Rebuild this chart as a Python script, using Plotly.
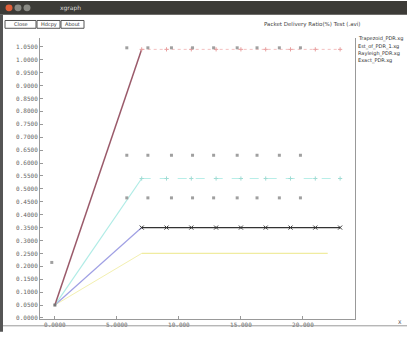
import plotly.graph_objects as go

# ---- data ----
ramp_x = [0, 7]
red_ramp_y = [0.05, 1.04]
cyan_ramp_y = [0.05, 0.54]
blue_ramp_y = [0.05, 0.35]
yellow_ramp_y = [0.05, 0.25]

flat_x = [7, 9, 11, 13, 15, 17, 19, 21, 23]
red_flat_y = [1.04] * 9
cyan_flat_y = [0.54] * 9
black_flat_y = [0.35] * 9
yellow_flat_x = [7, 22]
yellow_flat_y = [0.25, 0.25]

dots_x = [5.8, 7.5, 9.4, 11.1, 12.8, 14.7, 16.3, 18.1, 19.8]
dots_top_y = [1.046] * 9
dots_mid_y = [0.63] * 9
dots_low_y = [0.465] * 9
lone_x = [-0.25]
lone_y = [0.215]

x_ticks = [0, 5, 10, 15, 20]
x_tick_text = ["0.0000", "5.0000", "10.000", "15.000", "20.000"]
y_ticks = [round(0.05 * i, 2) for i in range(22)]
y_tick_text = ["%.4f" % v for v in y_ticks]
legend_names = ["Trapezoid_PDR.xg", "Est_of_PDR_1.xg", "Rayleigh_PDR.xg", "Exact_PDR.xg"]

W, H = 407, 340
L, R, T, B = 40, 52, 38, 13
PW, PH = W - L - R, H - T - B


def px(x):
    return (x - L) / PW


def py(y):
    return (H - B - y) / PH


fig = go.Figure()
fig.add_trace(go.Scatter(x=ramp_x, y=yellow_ramp_y, mode="lines", line=dict(color="#f3f0b0", width=1)))
fig.add_trace(go.Scatter(x=yellow_flat_x, y=yellow_flat_y, mode="lines", line=dict(color="#f0eca0", width=1.2)))
fig.add_trace(go.Scatter(x=ramp_x, y=blue_ramp_y, mode="lines", line=dict(color="#a0a0e4", width=1.2)))
fig.add_trace(go.Scatter(x=ramp_x, y=cyan_ramp_y, mode="lines", line=dict(color="#b0ece6", width=1.2)))
fig.add_trace(go.Scatter(x=ramp_x, y=red_ramp_y, mode="lines", line=dict(color="#9a5a6a", width=1.5)))
fig.add_trace(go.Scatter(x=flat_x, y=red_flat_y, mode="lines+markers",
                         line=dict(color="#f4c0c0", width=1, dash="dot"),
                         marker=dict(symbol="cross-thin", size=3, line=dict(color="#e8a0a0", width=1))))
fig.add_trace(go.Scatter(x=flat_x, y=cyan_flat_y, mode="lines+markers",
                         line=dict(color="#b8eee8", width=1, dash="dash"),
                         marker=dict(symbol="cross-thin", size=3, line=dict(color="#a0dcd4", width=1))))
fig.add_trace(go.Scatter(x=flat_x, y=black_flat_y, mode="lines+markers",
                         line=dict(color="#333333", width=1.2),
                         marker=dict(symbol="x-thin", size=4, line=dict(color="#333333", width=1))))
for yy in (dots_top_y, dots_mid_y, dots_low_y):
    fig.add_trace(go.Scatter(x=dots_x, y=yy, mode="markers",
                             marker=dict(symbol="square", size=3, color="#a0a0a0")))
fig.add_trace(go.Scatter(x=lone_x, y=lone_y, mode="markers",
                         marker=dict(symbol="square", size=3, color="#a0a0a0")))
fig.add_trace(go.Scatter(x=[0], y=[0.05], mode="markers",
                         marker=dict(symbol="square", size=3, color="#777777")))

tickfont = dict(family="DejaVu Sans Mono", size=6, color="#666666")
fig.update_layout(
    width=W, height=H, margin=dict(l=L, r=R, t=T, b=B),
    paper_bgcolor="white", plot_bgcolor="white", showlegend=False,
    xaxis=dict(range=[-1.2, 24.2], tickvals=x_ticks, ticktext=x_tick_text, tickfont=tickfont,
               showline=True, linecolor="#999999", linewidth=1, ticks="inside", ticklen=3,
               tickcolor="#999999", showgrid=False, zeroline=False, ticklabelstandoff=0),
    yaxis=dict(range=[-0.004, 1.084], tickvals=y_ticks, ticktext=y_tick_text, tickfont=tickfont,
               showline=True, linecolor="#999999", linewidth=1, mirror=True, ticks="inside",
               ticklen=3, tickcolor="#999999", showgrid=False, zeroline=False),
)

shapes = []
annots = []


def text(s, x, y, size=5, color="#333333", anchor="left"):
    annots.append(dict(text=s, x=px(x), y=py(y), xref="paper", yref="paper", showarrow=False,
                       xanchor=anchor, yanchor="middle",
                       font=dict(family="DejaVu Sans", size=size, color=color)))


# window title bar
shapes.append(dict(type="rect", xref="paper", yref="paper", x0=px(0), x1=px(W), y0=py(14), y1=py(0),
                   fillcolor="#3c3b37", line=dict(width=0), layer="above"))
for cx, col in ((9, "#e0603a"), (18, "#8a8a84"), (27, "#8a8a84")):
    shapes.append(dict(type="circle", xref="paper", yref="paper", x0=px(cx - 3.5), x1=px(cx + 3.5),
                       y0=py(10.5), y1=py(3.5), fillcolor=col, line=dict(width=0), layer="above"))
text("xgraph", 58, 7, size=6, color="#dddddd")
# left dark strip
shapes.append(dict(type="rect", xref="paper", yref="paper", x0=px(0), x1=px(3), y0=py(H), y1=py(14),
                   fillcolor="#555555", line=dict(width=0), layer="above"))
# buttons
for (x0, x1, lab) in ((5, 36, "Close"), (37, 60, "Hdcpy"), (61, 84, "About")):
    shapes.append(dict(type="rect", xref="paper", yref="paper", x0=px(x0), x1=px(x1), y0=py(28), y1=py(20),
                       fillcolor="rgba(0,0,0,0)", line=dict(width=1, color="#555555"), layer="above"))
    text(lab, (x0 + x1) / 2, 24, size=5, anchor="center")
text("Packet Delivery Ratio(%) Test (.avi)", 262, 24, size=5.5, color="#444444")
# legend text
for i, name in enumerate(legend_names):
    text(name, 356, 39 + 7.5 * i, size=5)
# bottom rule
shapes.append(dict(type="line", xref="paper", yref="paper", x0=px(3), x1=px(W), y0=py(334), y1=py(334),
                   line=dict(color="#999999", width=1), layer="above"))
text("X", 400, 330, size=5, color="#444444", anchor="center")
fig.update_layout(shapes=shapes, annotations=annots)

fig.write_html("out.html")
